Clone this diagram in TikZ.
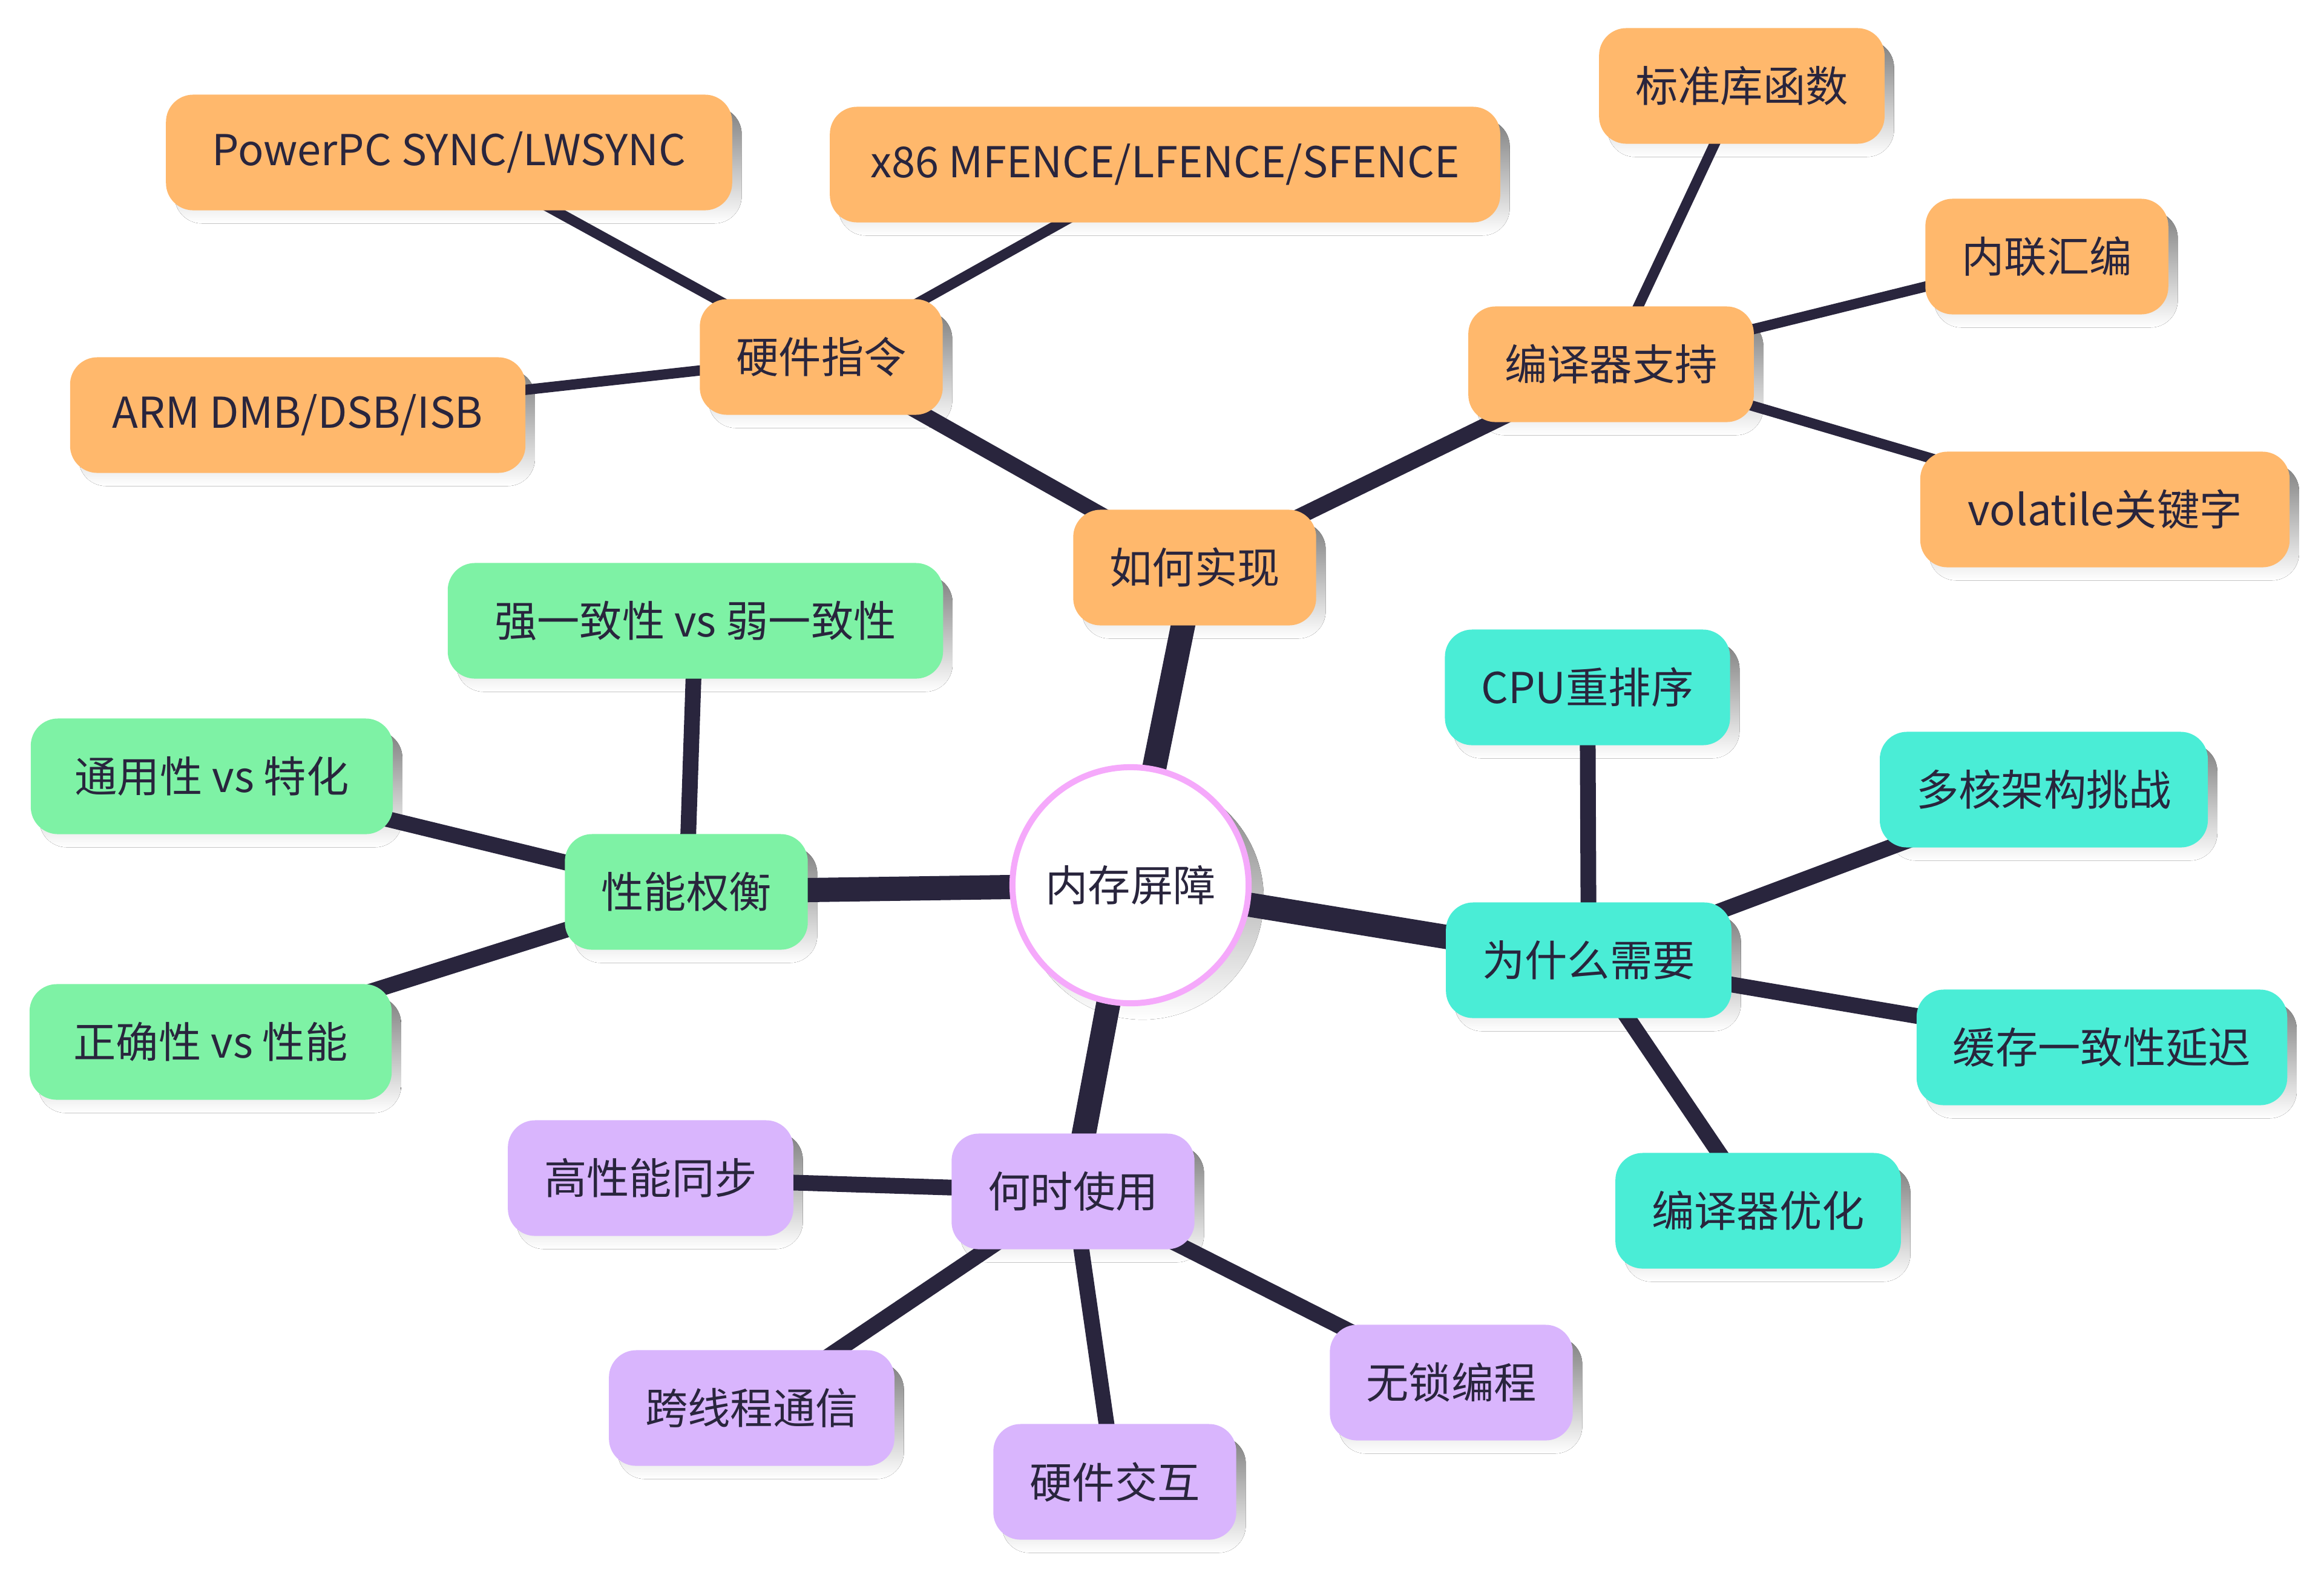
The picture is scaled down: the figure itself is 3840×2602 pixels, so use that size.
\documentclass[tikz,border=0pt]{standalone}
\usepackage{fontspec}
\setmainfont{Noto Sans CJK SC}
\usetikzlibrary{positioning}
\definecolor{ink}{HTML}{29253D}
\definecolor{peach}{HTML}{FFB86C}
\definecolor{aqua}{HTML}{4AEDD6}
\definecolor{mint}{HTML}{7EF2A5}
\definecolor{lilac}{HTML}{D9B5FD}
\definecolor{rosy}{HTML}{F5A9FB}
\definecolor{shade}{HTML}{EFEFEF}
\pgfdeclarelayer{shadow}
\pgfdeclarelayer{edges}
\pgfsetlayers{shadow,edges,main}

\begin{document}
\begin{tikzpicture}[x=0.01cm, y=-0.01cm,
    box/.style={rounded corners=0.45cm, minimum height=1.91cm, inner xsep=0.6cm,
        text=ink, font=\fontsize{20pt}{24pt}\selectfont},
    howbox/.style={box, fill=peach},
    whybox/.style={box, fill=aqua},
    whenbox/.style={box, fill=lilac},
    costbox/.style={box, fill=mint},
    lvlone/.style={draw=ink, line width=0.40cm},
    lvltwo/.style={draw=ink, line width=0.26cm},
    lvlthree/.style={draw=ink, line width=0.17cm}]
    \useasboundingbox (0,0) rectangle (3840,2602);

    % root
    \node[circle, fill=white, draw=rosy, line width=0.1cm, minimum size=3.9cm,
        text=ink, font=\fontsize{20pt}{24pt}\selectfont] (root) at (1868,1463) {内存屏障};

    % how
    \node[howbox] (how) at (1974,938) {如何实现};
    \node[howbox] (hw) at (1357,590) {硬件指令};
    \node[howbox, minimum width=9.35cm] (ppc) at (742,252) {PowerPC SYNC/LWSYNC};
    \node[howbox, minimum width=7.52cm] (arm) at (492,686) {ARM DMB/DSB/ISB};
    \node[howbox, minimum width=11.07cm] (x86) at (1925,272) {x86 MFENCE/LFENCE/SFENCE};
    \node[howbox] (comp) at (2662,602) {编译器支持};
    \node[howbox] (stdlib) at (2878,142) {标准库函数};
    \node[howbox] (asm) at (3382,424) {内联汇编};
    \node[howbox, minimum width=6.1cm] (volat) at (3478,842) {volatile关键字};

    % why
    \node[whybox] (why) at (2625,1587) {为什么需要};
    \node[whybox] (reorder) at (2623,1136) {CPU重排序};
    \node[whybox] (multi) at (3377,1305) {多核架构挑战};
    \node[whybox] (cache) at (3473,1731) {缓存一致性延迟};
    \node[whybox] (opt) at (2905,2001) {编译器优化};

    % when
    \node[whenbox] (when) at (1773,1969) {何时使用};
    \node[whenbox] (sync) at (1075,1947) {高性能同步};
    \node[whenbox] (thread) at (1242,2327) {跨线程通信};
    \node[whenbox] (dev) at (1842,2449) {硬件交互};
    \node[whenbox] (lockfree) at (2398,2285) {无锁编程};

    % cost
    \node[costbox] (cost) at (1134,1474) {性能权衡};
    \node[costbox, minimum width=8.18cm] (strong) at (1149,1026) {强一致性 vs 弱一致性};
    \node[costbox, minimum width=5.98cm] (general) at (350,1283) {通用性 vs 特化};
    \node[costbox, minimum width=5.98cm] (correct) at (348,1722) {正确性 vs 性能};

    % connectors
    \begin{pgfonlayer}{edges}
        \foreach \n in {how, why, when, cost}
            \draw[lvlone] (root.center) -- (\n.center);
        \foreach \p/\n in {how/hw, how/comp, why/reorder, why/multi, why/cache, why/opt,
                when/sync, when/thread, when/dev, when/lockfree,
                cost/strong, cost/general, cost/correct}
            \draw[lvltwo] (\p.center) -- (\n.center);
        \foreach \p/\n in {hw/ppc, hw/arm, hw/x86, comp/stdlib, comp/asm, comp/volat}
            \draw[lvlthree] (\p.center) -- (\n.center);
    \end{pgfonlayer}

    % shadows
    \begin{pgfonlayer}{shadow}
        \fill[shade] ([shift={(20,22)}]root.center) circle (2cm);
        \foreach \n in {how, hw, ppc, arm, x86, comp, stdlib, asm, volat,
                why, reorder, multi, cache, opt, when, sync, thread, dev, lockfree,
                cost, strong, general, correct}
            \fill[shade, rounded corners=0.45cm] ([shift={(15,21)}]\n.south west)
                rectangle ([shift={(15,21)}]\n.north east);
    \end{pgfonlayer}
\end{tikzpicture}
\end{document}
